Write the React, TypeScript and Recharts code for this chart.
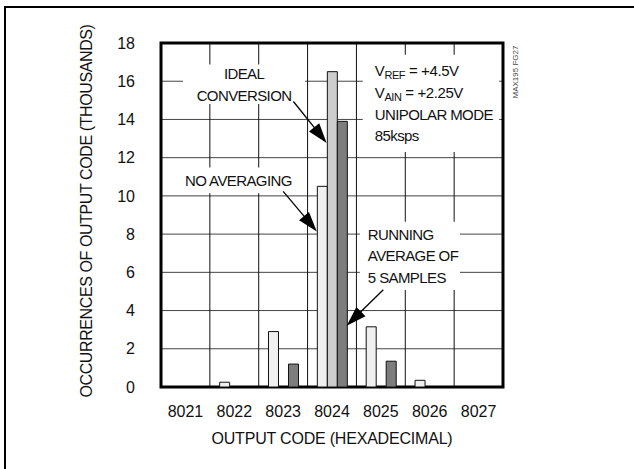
import {
  BarChart,
  Bar,
  XAxis,
  YAxis,
  CartesianGrid,
  ReferenceArea,
  ReferenceLine,
} from "recharts"

// output codes (hex) and occurrences in thousands
const codes = ["8021", "8022", "8023", "8024", "8025", "8026", "8027"]
const noAveraging = [0, 0.25, 2.9, 10.5, 3.15, 0.35, 0]
const idealConversion = [0, 0, 0, 16.5, 0, 0, 0]
const runningAverage = [0, 0, 1.2, 13.9, 1.35, 0, 0]
const yTicks = [0, 2, 4, 6, 8, 10, 12, 14, 16, 18]

const data = codes.map((code, i) => ({
  code,
  col: i + 0.5,
  none: noAveraging[i],
  ideal: idealConversion[i],
  avg: runningAverage[i],
}))

const FONT = "'Liberation Sans', Arial, Helvetica, sans-serif"

type NoteLine = string | [string, string, string]

// text boxes, in plot units (x: columns 0..7, y: thousands)
const notes: {
  x1: number
  x2: number
  y1: number
  y2: number
  lines: NoteLine[]
  align: "middle" | "start"
  pad: number
}[] = [
  { x1: 0.45, x2: 2.95, y1: 14.81, y2: 16.87, lines: ["IDEAL", "CONVERSION"], align: "middle", pad: 0 },
  { x1: 0.43, x2: 2.74, y1: 10.14, y2: 11.48, lines: ["NO AVERAGING"], align: "middle", pad: 0 },
  {
    x1: 4.13,
    x2: 6.92,
    y1: 12.29,
    y2: 17.39,
    lines: [["V", "REF", " = +4.5V"], ["V", "AIN", " = +2.25V"], "UNIPOLAR MODE", "85ksps"],
    align: "start",
    pad: 12,
  },
  { x1: 4.07, x2: 6.12, y1: 5.07, y2: 8.65, lines: ["RUNNING", "AVERAGE OF", "5 SAMPLES"], align: "start", pad: 8 },
]

const arrows = [
  [{ x: 2.71, y: 14.94 }, { x: 3.39, y: 12.77 }],
  [{ x: 2.5, y: 10.24 }, { x: 3.19, y: 8.14 }],
  [{ x: 4.55, y: 5.09 }, { x: 3.8, y: 3.21 }],
]

const LINE_H = 21.7

function NoteText(props: any) {
  const { viewBox, note } = props
  if (!viewBox) return null
  const { x, y, width, height } = viewBox
  const n = note.lines.length
  const cy = y + height / 2 + 5.5
  const tx = note.align === "middle" ? x + width / 2 : x + note.pad
  return (
    <g>
      {note.lines.map((ln: NoteLine, i: number) => {
        const by = cy + (i - (n - 1) / 2) * LINE_H
        if (typeof ln === "string") {
          return (
            <text key={i} x={tx} y={by} textAnchor={note.align} fontSize={15} letterSpacing={-0.6} fill="#111" fontFamily={FONT}>
              {ln}
            </text>
          )
        }
        return (
          <text key={i} x={tx} y={by} textAnchor={note.align} fontSize={15} letterSpacing={-0.4} fill="#111" fontFamily={FONT}>
            {ln[0]}
            <tspan fontSize={11} dy={3}>{ln[1]}</tspan>
            <tspan dy={-3}>{ln[2]}</tspan>
          </text>
        )
      })}
    </g>
  )
}

function Arrow(props: any) {
  const { x1, y1, x2, y2 } = props
  if ([x1, y1, x2, y2].some((v) => typeof v !== "number")) return null
  const dx = x2 - x1
  const dy = y2 - y1
  const len = Math.hypot(dx, dy)
  const ux = dx / len
  const uy = dy / len
  const head = 20
  const half = 6.5
  const bx = x2 - ux * head
  const by = y2 - uy * head
  const pts = `${x2},${y2} ${bx - uy * half},${by + ux * half} ${bx + uy * half},${by - ux * half}`
  return (
    <g>
      <line x1={x1} y1={y1} x2={bx + ux * 2} y2={by + uy * 2} stroke="#000" strokeWidth={1.3} />
      <polygon points={pts} fill="#000" />
    </g>
  )
}

function PlotFrameLabel(props: any) {
  const { viewBox } = props
  if (!viewBox) return null
  const tx = viewBox.x + viewBox.width + 15
  const ty = viewBox.y + 29
  return (
    <text
      x={tx}
      y={ty}
      transform={`rotate(-90 ${tx} ${ty})`}
      textAnchor="middle"
      fontSize={8}
      fill="#444"
      fontFamily={FONT}
    >
      MAX195 FG27
    </text>
  )
}

function YTitle(props: any) {
  const vb = props.viewBox || { x: 0, y: 43, width: 161, height: 344 }
  const tx = vb.x + 92
  const ty = vb.y + vb.height / 2 - 4
  return (
    <text
      x={tx}
      y={ty}
      transform={`rotate(-90 ${tx} ${ty})`}
      textAnchor="middle"
      fontSize={16}
      letterSpacing={-0.4}
      fill="#111"
      fontFamily={FONT}
    >
      OCCURRENCES OF OUTPUT CODE (THOUSANDS)
    </text>
  )
}

function XTitle(props: any) {
  const vb = props.viewBox || { x: 161, y: 387, width: 342, height: 82 }
  return (
    <text
      x={vb.x + vb.width / 2}
      y={vb.y + 57}
      textAnchor="middle"
      fontSize={16}
      letterSpacing={-0.2}
      fill="#111"
      fontFamily={FONT}
    >
      OUTPUT CODE (HEXADECIMAL)
    </text>
  )
}

export default function App() {
  return (
    <div
      style={{
        position: "absolute",
        left: 0,
        top: 0,
        width: 634,
        height: 469,
        overflow: "hidden",
        background: "#fff",
      }}
    >
      <div
        style={{
          position: "absolute",
          left: 4,
          top: 6,
          width: 700,
          height: 500,
          borderLeft: "2px solid #000",
          borderTop: "2px solid #000",
        }}
      />
      <BarChart
        width={634}
        height={469}
        data={data}
        margin={{ top: 43, right: 131, bottom: 0, left: 0 }}
        barCategoryGap="20%"
        barGap={0}
        style={{ fontFamily: FONT }}
      >
        <CartesianGrid
          vertical={false}
          stroke="#444"
          strokeWidth={1}
        />
        <CartesianGrid
          horizontal={false}
          stroke="#111"
          strokeWidth={1}
          verticalCoordinatesGenerator={({ offset, width }: any) => {
            const left = offset?.left ?? 161
            const w = offset?.width ?? width - left - (offset?.right ?? 131)
            return codes.slice(1).map((_, i) => left + ((i + 1) * w) / codes.length)
          }}
        />
        <XAxis
          dataKey="code"
          axisLine={false}
          tickLine={false}
          tickSize={0}
          tickMargin={19}
          height={82}
          interval={0}
          tick={{ fontSize: 16, fill: "#111", fontFamily: FONT }}
          label={<XTitle />}
        />
        <XAxis
          xAxisId="n"
          dataKey="col"
          type="number"
          domain={[0, codes.length]}
          allowDataOverflow
          hide
        />
        <YAxis
          domain={[0, 18]}
          ticks={yTicks}
          axisLine={false}
          tickLine={false}
          tickSize={0}
          tickMargin={26}
          width={161}
          interval={0}
          tick={{ fontSize: 16, fill: "#111", fontFamily: FONT }}
          label={<YTitle />}
        />
        {notes.map((n, i) => (
          <ReferenceArea
            key={"note" + i}
            xAxisId="n"
            x1={n.x1}
            x2={n.x2}
            y1={n.y1}
            y2={n.y2}
            fill="#fff"
            fillOpacity={1}
            stroke="none"
            ifOverflow="visible"
            label={<NoteText note={n} />}
          />
        ))}
        <Bar dataKey="none" fill="#f0f0f0" stroke="#111" strokeWidth={1} isAnimationActive={false} />
        <Bar dataKey="ideal" fill="#cdcdcd" stroke="#111" strokeWidth={1} isAnimationActive={false} />
        <Bar dataKey="avg" fill="#7d7d7d" stroke="#111" strokeWidth={1} isAnimationActive={false} />
        {arrows.map((seg, i) => (
          <ReferenceLine key={"arrow" + i} xAxisId="n" segment={seg} ifOverflow="visible" shape={<Arrow />} />
        ))}
        <ReferenceArea
          xAxisId="n"
          x1={0}
          x2={codes.length}
          y1={0}
          y2={18}
          fill="none"
          stroke="#000"
          strokeWidth={3}
          ifOverflow="visible"
          label={<PlotFrameLabel />}
        />
      </BarChart>
    </div>
  )
}
